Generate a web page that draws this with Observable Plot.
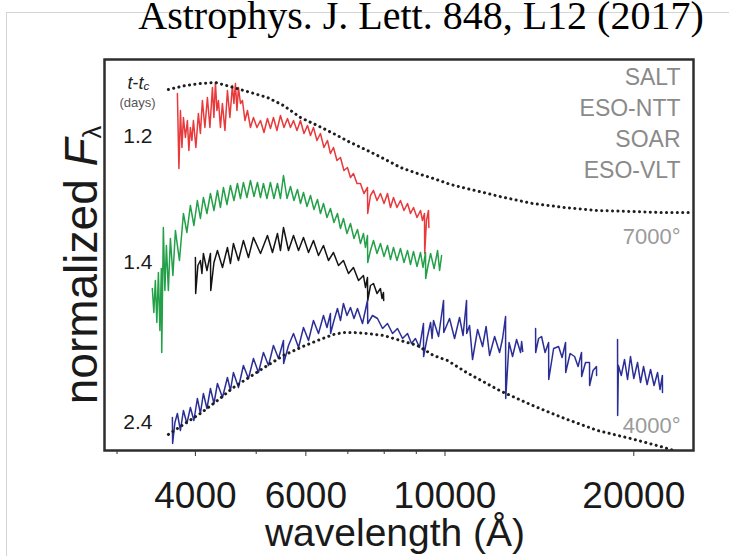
<!DOCTYPE html>
<html>
<head>
<meta charset="utf-8">
<script src="https://cdn.jsdelivr.net/npm/d3@7"></script>
<script src="https://cdn.jsdelivr.net/npm/@observablehq/plot@0.6"></script>
<style>
  body { margin: 0; background: #fff; }
  #wrap { position: relative; width: 729px; height: 556px; overflow: hidden; background: #fff; }
  #border { position: absolute; left: 6px; top: 12px; width: 760px; height: 600px; border: 1px solid #d4d4d4; }
  #chart { position: absolute; left: 0; top: 0; }
</style>
</head>
<body>
<div id="wrap"><div id="border"></div><div id="chart"></div></div>
<script>
// ---------- data (wavelength in Å, normalized F_lambda + offset, arbitrary units) ----------
const titleText = "Astrophys. J. Lett. 848, L12 (2017)";
const instruments = ["SALT", "ESO-NTT", "SOAR", "ESO-VLT"];
const epochs = ["1.2", "1.4", "2.4"];
const temperatures = ["7000°", "4000°"];
const majorTicks = [4000, 6000, 10000, 20000];
const minorTicks = [3000, 5000, 7000, 8000, 9000];

// SALT, t - tc = 1.2 d
const salt = [[3744,3.57],[3765,2.82],[3786,3.40],[3807,3.03],[3828,3.33],[3856,3.13],[3884,3.30],[3905,3.00],[3927,3.23],[3949,3.10],[3971,3.30],[4007,3.03],[4044,3.37],[4074,3.17],[4104,3.50],[4142,3.23],[4180,3.53],[4219,3.23],[4258,3.63],[4281,3.33],[4305,3.68],[4329,3.40],[4353,3.50],[4385,3.23],[4417,3.47],[4458,3.20],[4499,3.60],[4540,3.33],[4582,3.65],[4607,3.47],[4633,3.67],[4659,3.40],[4685,3.63],[4720,3.47],[4754,3.50],[4798,3.30],[4842,3.40],[4896,3.23],[4950,3.33],[5014,3.23],[5079,3.30],[5145,3.18],[5211,3.32],[5269,3.22],[5327,3.33],[5396,3.20],[5466,3.35],[5537,3.23],[5609,3.32],[5671,3.23],[5734,3.30],[5808,3.20],[5882,3.30],[5959,3.17],[6036,3.25],[6103,3.15],[6170,3.23],[6250,3.10],[6330,3.17],[6412,3.03],[6495,3.10],[6567,2.97],[6640,3.03],[6726,2.90],[6813,2.93],[6901,2.80],[6990,2.83],[7068,2.73],[7146,2.77],[7239,2.67],[7332,2.67],[7427,2.57],[7523,2.63],[7530,2.37],[7607,2.55],[7691,2.60],[7791,2.50],[7891,2.57],[7994,2.47],[8097,2.57],[8187,2.43],[8277,2.53],[8384,2.43],[8492,2.50],[8603,2.40],[8714,2.47],[8811,2.37],[8908,2.43],[9024,2.33],[9140,2.40],[9207,2.30],[9275,2.37],[9282,1.97],[9343,2.30],[9412,2.40],[9425,2.23]];

// ESO-NTT, t - tc = 1.4 d
const esoNtt = [[3415,1.62],[3434,1.38],[3453,1.70],[3472,1.28],[3492,1.78],[3511,1.20],[3530,1.82],[3535,0.98],[3556,2.23],[3576,1.60],[3596,2.05],[3622,1.60],[3649,2.12],[3683,1.75],[3717,2.20],[3772,1.90],[3828,2.37],[3877,2.18],[3927,2.45],[3978,2.25],[4029,2.50],[4074,2.32],[4119,2.53],[4173,2.37],[4227,2.57],[4282,2.40],[4337,2.60],[4385,2.43],[4433,2.63],[4491,2.46],[4549,2.65],[4608,2.50],[4667,2.67],[4719,2.52],[4771,2.68],[4833,2.53],[4896,2.70],[4960,2.54],[5023,2.68],[5079,2.53],[5135,2.67],[5201,2.52],[5268,2.68],[5337,2.52],[5406,2.67],[5466,2.52],[5527,2.75],[5599,2.52],[5671,2.64],[5744,2.50],[5818,2.61],[5883,2.47],[5948,2.58],[6025,2.44],[6103,2.55],[6182,2.41],[6261,2.51],[6331,2.37],[6401,2.47],[6484,2.33],[6567,2.42],[6652,2.28],[6738,2.37],[6813,2.22],[6888,2.32],[6978,2.17],[7068,2.27],[7160,2.12],[7252,2.21],[7332,2.07],[7413,2.17],[7468,2.03],[7523,2.15],[7530,1.88],[7607,2.00],[7691,2.10],[7791,1.97],[7891,2.07],[7994,1.94],[8097,2.05],[8187,1.91],[8277,2.03],[8384,1.90],[8492,2.02],[8603,1.88],[8714,2.00],[8811,1.86],[8908,1.99],[9024,1.84],[9140,1.98],[9224,1.83],[9309,1.98],[9315,1.72],[9397,1.85],[9485,1.97],[9608,1.82],[9732,2.00],[9804,1.80],[9876,1.95]];

// SOAR, t - tc = 1.4 d
const soar = [[4000,1.93],[4004,1.57],[4037,1.85],[4074,1.90],[4097,1.77],[4119,1.97],[4173,1.80],[4227,1.97],[4232,1.60],[4282,1.88],[4337,2.00],[4418,1.83],[4499,2.03],[4549,1.87],[4599,2.07],[4685,1.90],[4771,2.10],[4860,1.93],[4950,2.13],[5080,1.97],[5211,2.15],[5308,1.98],[5406,2.17],[5466,2.00],[5527,2.23],[5630,2.00],[5734,2.15],[5841,2.00],[5948,2.13],[6059,1.98],[6170,2.10],[6285,1.95],[6401,2.05],[6520,1.90],[6640,1.98],[6764,1.85],[6888,1.90],[7017,1.77],[7146,1.83],[7280,1.70],[7413,1.75],[7468,1.63],[7523,1.73],[7530,1.50],[7607,1.65],[7691,1.67],[7791,1.57],[7891,1.62],[7935,1.52],[7978,1.58],[7985,1.50]];

// ESO-VLT (X-shooter), t - tc = 2.4 d, three arms/bands
const vltOptical = [[3676,0.33],[3679,0.07],[3710,0.28],[3744,0.37],[3786,0.20],[3828,0.40],[3877,0.27],[3927,0.43],[3978,0.30],[4029,0.52],[4074,0.37],[4119,0.57],[4173,0.42],[4227,0.62],[4282,0.47],[4337,0.67],[4418,0.53],[4499,0.73],[4549,0.60],[4599,0.78],[4685,0.63],[4771,0.85],[4860,0.72],[4950,0.92],[5042,0.78],[5135,0.98],[5231,0.85],[5327,1.05],[5427,0.92],[5527,1.10],[5530,0.87],[5630,1.05],[5734,1.17],[5841,1.03],[5948,1.23],[6059,1.10],[6170,1.30],[6285,1.17],[6401,1.35],[6484,1.23],[6567,1.37],[6570,1.17],[6652,1.30],[6738,1.42],[6813,1.30],[6888,1.47],[6978,1.35],[7068,1.43],[7160,1.32],[7252,1.42],[7387,1.27],[7523,1.50],[7530,1.27],[7664,1.35],[7805,1.32],[7951,1.22],[8097,1.27],[8248,1.17],[8400,1.22],[8557,1.12],[8714,1.17],[8843,1.07],[8972,1.12],[9106,1.03],[9240,1.27],[9245,0.94],[9362,1.12],[9485,1.28],[9536,1.12],[9587,1.30],[9767,1.14],[9947,1.50],[9955,1.18],[10168,1.32],[10358,1.12],[10548,1.33],[10685,1.15],[10823,1.50],[10830,1.17],[10944,1.25],[11064,0.91],[11272,1.21],[11480,1.04],[11629,1.24],[11778,0.95],[11998,1.14],[12218,0.98],[12354,1.12],[12490,1.34],[12497,0.52],[12652,1.08],[12815,0.94],[13006,1.11],[13197,0.98],[13250,1.09],[13304,0.99]];
const vltH = [[13945,1.22],[13950,0.98],[14100,1.12],[14255,1.14],[14440,0.98],[14628,1.08],[14635,0.71],[14900,1.02],[15173,1.04],[15370,0.93],[15567,1.08],[15575,0.78],[15830,0.97],[16091,0.94],[16300,0.84],[16507,0.98],[16515,0.74],[16750,0.88],[16998,0.88],[17005,0.65],[17220,0.80],[17438,0.84],[17445,0.75]];
const vltK = [[18840,1.11],[18848,0.35],[18900,0.85],[19100,0.75],[19331,0.91],[19545,0.71],[19759,0.94],[20000,0.72],[20276,0.88],[20500,0.68],[20728,0.84],[21000,0.66],[21268,0.81],[21545,0.65],[21822,0.78],[22018,0.61],[22214,0.75],[22220,0.58]];

// blackbody curves (dotted)
const bb7000 = [[3622,3.61],[3856,3.65],[4074,3.67],[4305,3.68],[4599,3.63],[4896,3.58],[5211,3.53],[5527,3.45],[5882,3.33],[6261,3.25],[6640,3.17],[7068,3.08],[7523,3.00],[7978,2.92],[8492,2.83],[9039,2.77],[9587,2.72],[10206,2.66],[10823,2.62],[11522,2.58],[12218,2.54],[13792,2.47],[15511,2.43],[17502,2.40],[19759,2.39],[22064,2.38],[24632,2.38]];
const bb4000 = [[3622,0.16],[3828,0.26],[4074,0.37],[4337,0.50],[4599,0.63],[4896,0.74],[5211,0.85],[5527,0.95],[5882,1.03],[6261,1.10],[6640,1.16],[6888,1.18],[7146,1.18],[7523,1.17],[7978,1.15],[8492,1.10],[9039,1.05],[9587,0.95],[10089,0.90],[10823,0.78],[12218,0.60],[13792,0.45],[15511,0.32],[17502,0.20],[19759,0.12],[22064,0.04],[24632,-0.05]];

// ---------- styles ----------
const sans = "'Liberation Sans', Arial, Helvetica, sans-serif";
const serif = "'Liberation Serif', 'Times New Roman', serif";
const colors = {salt: "#e8393b", ntt: "#24a048", soar: "#141414", vlt: "#2b2e96"};
const spec = (data, stroke) => Plot.line(data, {x: d => d[0], y: d => d[1], stroke, strokeWidth: 1.5, strokeLinejoin: "round"});
const dotted = (data) => Plot.line(data, {x: d => d[0], y: d => d[1], stroke: "#1e1e1e", strokeWidth: 3, strokeLinecap: "round", strokeDasharray: "0.1 5.3", clip: true});

const marks = [
  spec(salt, colors.salt),
  spec(esoNtt, colors.ntt),
  spec(soar, colors.soar),
  spec(vltOptical, colors.vlt),
  spec(vltH, colors.vlt),
  spec(vltK, colors.vlt),
  dotted(bb7000),
  dotted(bb4000),
  Plot.frame({stroke: "#2e2e2e", strokeWidth: 2.5}),
  Plot.axisX(majorTicks, {tickSize: 6, tickPadding: 25, fontSize: 37, tickFormat: d => String(d), label: null, fill: "#1a1a1a", stroke: "#333"}),
  Plot.axisX(minorTicks, {tickSize: 4, tickFormat: () => "", label: null, stroke: "#333"}),
  Plot.text([titleText], {frameAnchor: "top", text: d => d, dx: 22, dy: -31, lineAnchor: "bottom", fontSize: 40, fontFamily: serif, fill: "#000"}),
  Plot.text(["wavelength (Å)"], {frameAnchor: "bottom", text: d => d, dx: -4, dy: 95, lineAnchor: "bottom", fontSize: 39, fill: "#1a1a1a"}),
  Plot.text(["normalized Fλ"], {frameAnchor: "left", text: d => d, textAnchor: "middle", rotate: -90, dx: -8, dy: 10, lineAnchor: "bottom", fontSize: 46, fill: "#1a1a1a"}),
  Plot.text(["t-tc"], {frameAnchor: "top-left", text: d => d, textAnchor: "middle", dx: 34, dy: 29, lineAnchor: "bottom", fontSize: 18, fill: "#222"}),
  Plot.text(["(days)"], {frameAnchor: "top-left", text: d => d, textAnchor: "middle", dx: 33, dy: 47, lineAnchor: "bottom", fontSize: 13, fill: "#555"}),
  ...epochs.map((e, i) => Plot.text([e], {frameAnchor: "top-left", text: d => d, textAnchor: "end", dx: 48, dy: [83, 209, 369][i], lineAnchor: "bottom", fontSize: 21, fill: "#1a1a1a"})),
  ...instruments.map((name, i) => Plot.text([name], {frameAnchor: "top-right", text: d => d, textAnchor: "end", dx: -13, dy: 25 + i * 31, lineAnchor: "bottom", fontSize: 23, fill: "#8a8a8a"})),
  ...temperatures.map((t, i) => Plot.text([t], {frameAnchor: "top-right", text: d => d, textAnchor: "end", dx: -13, dy: [184, 373][i], lineAnchor: "bottom", fontSize: 22, fill: "#9a9a9a"}))
];

const chart = Plot.plot({
  width: 729,
  height: 556,
  marginTop: 59,
  marginBottom: 106,
  marginLeft: 104,
  marginRight: 36,
  style: {fontFamily: sans, background: "transparent", overflow: "visible"},
  x: {type: "log", domain: [2865, 24900], axis: null},
  y: {domain: [0, 3.91], axis: null},
  marks
});
document.getElementById("chart").appendChild(chart);

// rich text: italic symbols and subscripts
d3.select(chart).selectAll("text").each(function () {
  const t = this.textContent;
  const sel = d3.select(this);
  if (t === "normalized Fλ") {
    sel.text(null);
    sel.append("tspan").text("normalized ");
    sel.append("tspan").attr("font-style", "italic").text("F");
    sel.append("tspan").attr("font-size", "0.55em").attr("dy", "0.18em").text("λ");
  } else if (t === "t-tc") {
    sel.text(null);
    sel.append("tspan").attr("font-style", "italic").text("t");
    sel.append("tspan").text("-");
    sel.append("tspan").attr("font-style", "italic").text("t");
    sel.append("tspan").attr("font-style", "italic").attr("font-size", "0.65em").attr("dy", "0.15em").text("c");
  }
});
</script>
</body>
</html>
